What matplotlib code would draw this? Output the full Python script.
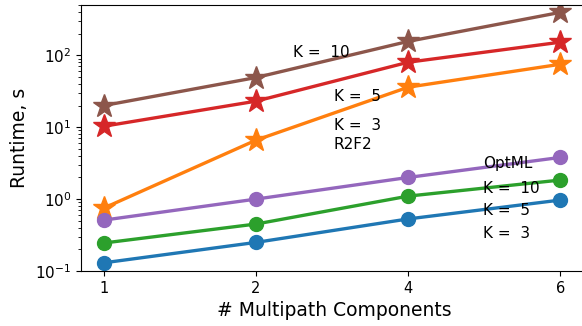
import numpy as np
import matplotlib
matplotlib.use('Agg')
import matplotlib.pyplot as plt

# x categories
paths = ['1', '2', '4', '6']

# R2F2 runtimes (s)
r2f2_k3 = [0.75, 6.6, 36, 75]
r2f2_k5 = [10.3, 23, 80, 152]
r2f2_k10 = [20, 49, 156, 395]

# OptML runtimes (s)
optml_k3 = [0.13, 0.25, 0.53, 0.97]
optml_k5 = [0.245, 0.45, 1.1, 1.84]
optml_k10 = [0.51, 1.0, 2.0, 3.8]

fig = plt.figure(figsize=(5.82, 3.26), dpi=100)
# right edge of the axes runs just past the figure, as in the original crop
ax = fig.add_axes([81 / 582, 1 - 271 / 326, 1.01 - 81 / 582, (271 - 5) / 326])
ax.spines['right'].set_visible(False)

x = np.arange(len(paths))
lw = 2.4
ax.plot(x, optml_k3, color='tab:blue', marker='o', ms=10, lw=lw)
ax.plot(x, r2f2_k3, color='tab:orange', marker='*', ms=17, lw=lw)
ax.plot(x, optml_k5, color='tab:green', marker='o', ms=10, lw=lw)
ax.plot(x, r2f2_k5, color='tab:red', marker='*', ms=17, lw=lw)
ax.plot(x, optml_k10, color='tab:purple', marker='o', ms=10, lw=lw)
ax.plot(x, r2f2_k10, color='tab:brown', marker='*', ms=17, lw=lw)

ax.set_yscale('log')
ax.set_ylim(0.1, 500)
ax.set_xlim(-0.15, 3.18)
ax.set_xticks(x)
ax.set_xticklabels(paths)
ax.tick_params(axis='x', labelsize=10.5)
ax.tick_params(axis='y', labelsize=11)
ax.set_xlabel('# Multipath Components', fontsize=13.5)
ax.set_ylabel('Runtime, s', fontsize=13.5)

fs = 11
ax.text(1.24, 110, 'K =  10', fontsize=fs, va='center')
ax.text(1.51, 27, 'K =  5', fontsize=fs, va='center')
ax.text(1.51, 10.5, 'K =  3', fontsize=fs, va='center')
ax.text(1.51, 5.7, 'R2F2', fontsize=fs, va='center')
ax.text(2.49, 3.1, 'OptML', fontsize=fs, va='center')
ax.text(2.49, 1.41, 'K =  10', fontsize=fs, va='center')
ax.text(2.49, 0.70, 'K =  5', fontsize=fs, va='center')
ax.text(2.49, 0.33, 'K =  3', fontsize=fs, va='center')

fig.savefig('out.png', dpi=100)
